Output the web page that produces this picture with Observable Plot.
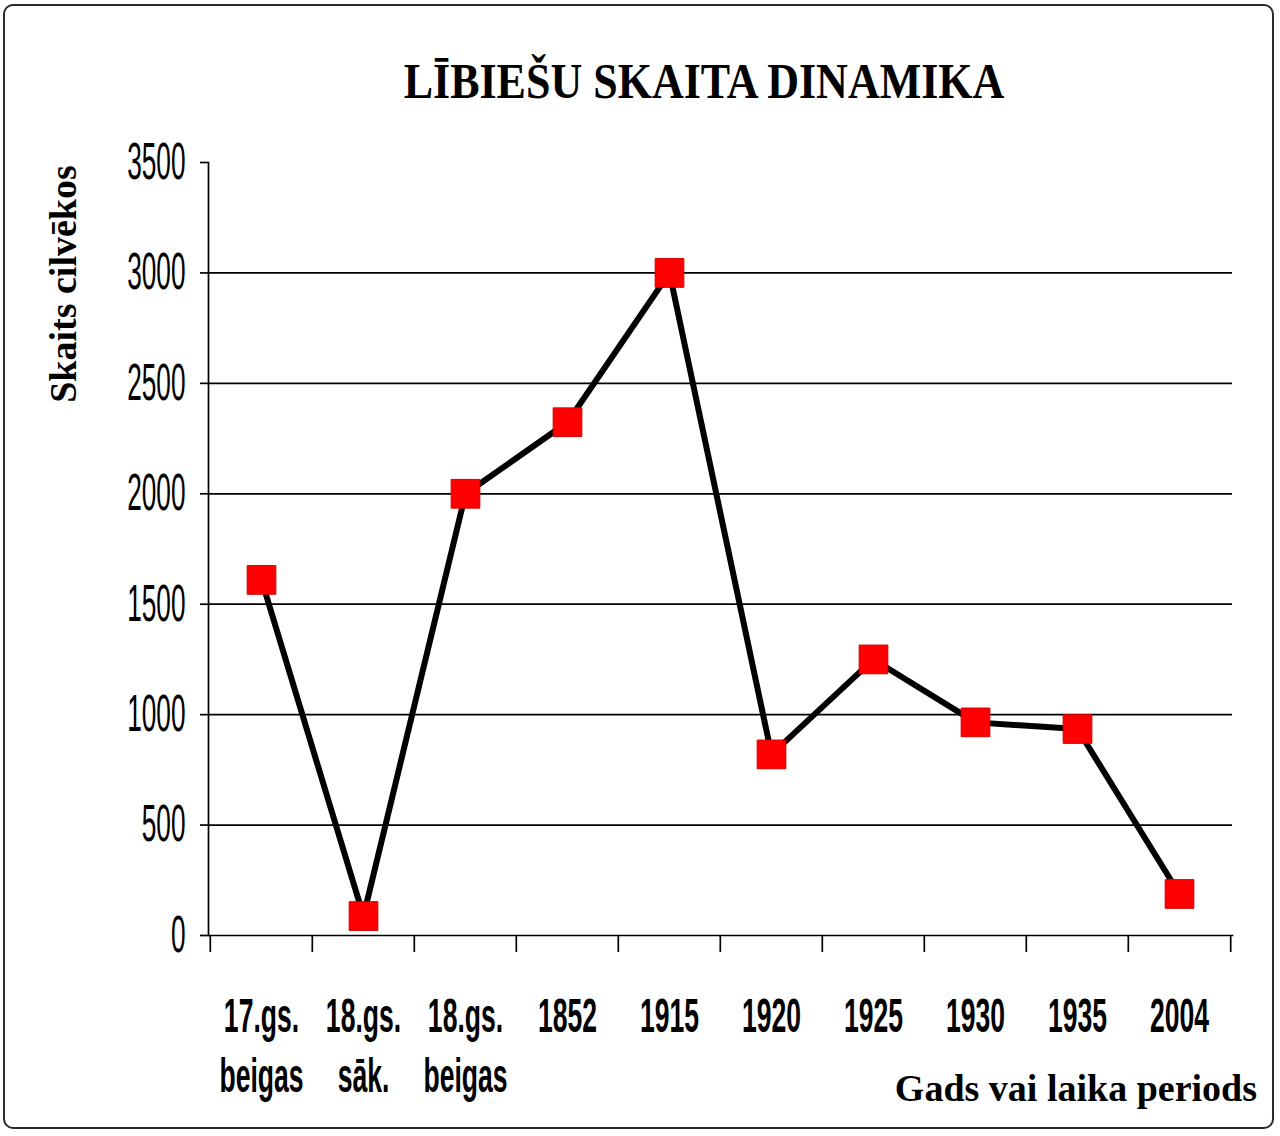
<!DOCTYPE html>
<html>
<head>
<meta charset="utf-8">
<script src="https://cdn.jsdelivr.net/npm/d3@7"></script>
<script src="https://cdn.jsdelivr.net/npm/@observablehq/plot@0.6"></script>
<style>
  html, body { margin: 0; padding: 0; background: #fff; }
  #wrap { position: relative; width: 1280px; height: 1136px; overflow: hidden; background: #fff; }
  #border { position: absolute; left: 3px; top: 4px; width: 1267px; height: 1121px;
            border: 2.5px solid #2a2a2a; border-radius: 10px; }
  #title { position: absolute; left: 0; top: 62px; width: 1408px; text-align: center;
           font: bold 44px "Liberation Serif", "Times New Roman", serif; line-height: 44px;
           color: #000; transform: scaleY(1.17); transform-origin: 50% 36.9px; white-space: nowrap; }
  #ylabel { position: absolute; left: 63px; top: 284px; transform: translate(-50%, -50%) rotate(-90deg);
            font: bold 38px "Liberation Serif", "Times New Roman", serif; line-height: 38px;
            white-space: nowrap; color: #000; }
  #xlabel { position: absolute; left: 0; top: 1069px; width: 1257px; text-align: right;
            font: bold 38px "Liberation Serif", "Times New Roman", serif; line-height: 38px;
            white-space: nowrap; color: #000; }
  #chart { position: absolute; left: 0; top: 0; }
  #chart svg { overflow: visible; }
</style>
</head>
<body>
<div id="wrap">
  <div id="border"></div>
  <div id="chart"></div>
  <div id="title">LĪBIEŠU SKAITA DINAMIKA</div>
  <div id="ylabel">Skaits cilvēkos</div>
  <div id="xlabel">Gads vai laika periods</div>
</div>
<script>
// ---- data ----
const periods = ["17.gs.\nbeigas", "18.gs.\nsāk.", "18.gs.\nbeigas", "1852", "1915", "1920", "1925", "1930", "1935", "2004"];
const counts = [1610, 88, 2000, 2324, 3000, 820, 1250, 965, 935, 188];
const yTicks = [0, 500, 1000, 1500, 2000, 2500, 3000, 3500];
const gridValues = [500, 1000, 1500, 2000, 2500, 3000];
const yDomain = [0, 3500];

const rows = periods.map((p, i) => ({period: p, count: counts[i]}));

// ---- layout ----
const W = 1280, H = 1136;
const mL = 208, mR = 48, mT = 162, mB = 201;
const plotH = H - mT - mB;
const unitsPerPx = (yDomain[1] - yDomain[0]) / plotH;
const halfBand = (W - mL - mR) / periods.length / 2;
const tickLen = 17 * unitsPerPx;

const chart = Plot.plot({
  width: W,
  height: H,
  marginLeft: mL,
  marginRight: mR,
  marginTop: mT,
  marginBottom: mB,
  style: {background: "transparent", color: "#000", fontFamily: "'Liberation Sans', Arial, sans-serif"},
  x: {type: "band", domain: periods, padding: 0, align: 0.5},
  y: {domain: yDomain},
  marks: [
    Plot.ruleY(gridValues, {stroke: "#000", strokeWidth: 1.7}),
    Plot.frame({anchor: "left", stroke: "#000", strokeWidth: 1.7}),
    Plot.frame({anchor: "bottom", stroke: "#000", strokeWidth: 1.7}),
    Plot.ruleX(periods, {x: d => d, y1: 0, y2: -tickLen, dx: -halfBand, stroke: "#000", strokeWidth: 1.7}),
    Plot.ruleX(periods.slice(-1), {x: d => d, y1: 0, y2: -tickLen, dx: halfBand, stroke: "#000", strokeWidth: 1.7}),
    Plot.axisY({ticks: yTicks, tickSize: 8, tickPadding: 15, label: null, fontSize: 32,
                strokeWidth: 1.7, tickFormat: d => String(d)}),
    Plot.axisX({tickSize: 0, tickPadding: 54, label: null, fontSize: 32, fontWeight: "bold", lineHeight: 1.23}),
    Plot.line(rows, {x: "period", y: "count", stroke: "#000", strokeWidth: 6, strokeLinejoin: "miter"}),
    Plot.dot(rows, {x: "period", y: "count", symbol: "square", r: 16.2, fill: "#ff0000", stroke: "#d40000", strokeWidth: 1})
  ]
});
document.getElementById("chart").appendChild(chart);

// stretch tick labels vertically (condensed tall look of the original)
function squash(selector, sx, sy) {
  chart.querySelectorAll(selector).forEach(t => {
    const tr = t.getAttribute("transform");
    if (tr && /translate/.test(tr)) {
      t.setAttribute("transform", tr + ` scale(${sx},${sy})`);
    } else {
      const X = parseFloat(t.getAttribute("x")) || 0;
      const Y = parseFloat(t.getAttribute("y")) || 0;
      t.setAttribute("transform", `translate(${X},${Y}) scale(${sx},${sy}) translate(${-X},${-Y})`);
    }
  });
}
squash('g[aria-label="y-axis tick label"] text', 0.82, 1.6);
squash('g[aria-label="x-axis tick label"] text', 0.83, 1.52);
</script>
</body>
</html>
